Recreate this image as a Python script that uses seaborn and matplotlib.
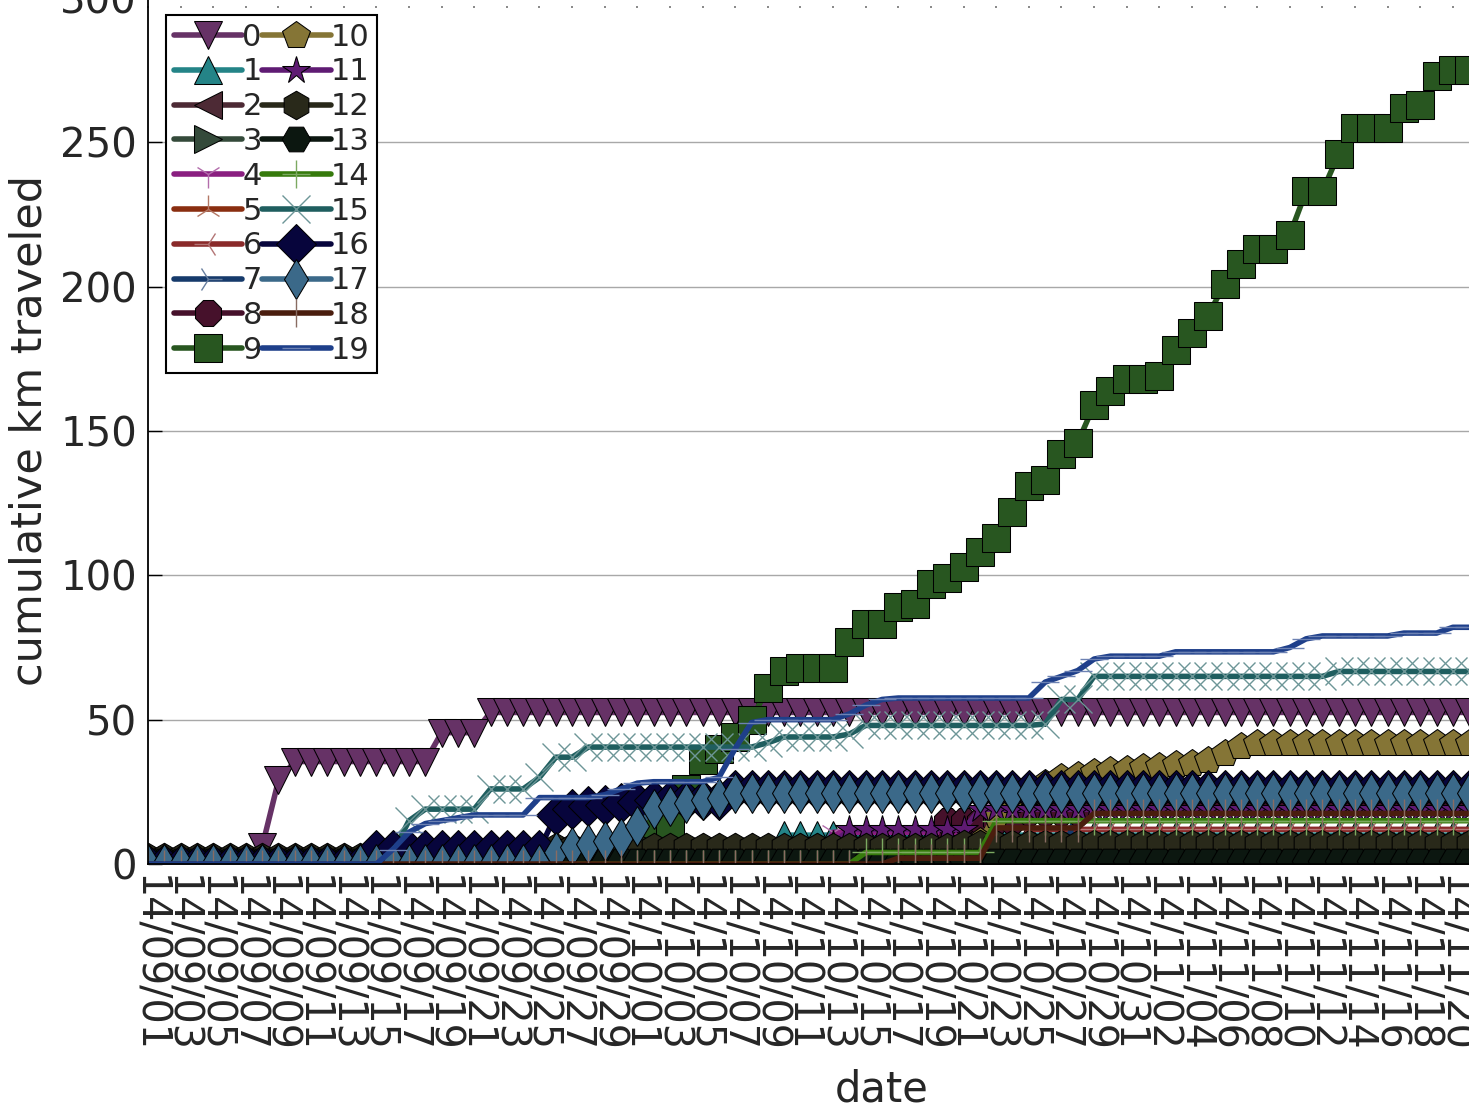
import numpy as np
import pandas as pd
import matplotlib
matplotlib.use("Agg")
import matplotlib.pyplot as plt
import matplotlib.colors as mcolors
from matplotlib.markers import MarkerStyle
import seaborn as sns

# ---- data: cumulative km per participant, one value per day from 2014-09-01 ----
start_date = "2014-09-01"
n_days = 82

series_names = [str(k) for k in range(20)]
series_markers = ['v', '^', '<', '>', '1', '2', '3', '4', '8', 's',
                  'p', '*', 'h', 'H', '+', 'x', 'D', 'd', '|', '_']
series_colors = ['#663266', '#248487', '#4d2a35', '#344a3a', '#8a1f80',
                 '#8a2e10', '#8a2a2a', '#163a6b', '#46112b', '#285620',
                 '#857536', '#5f1b73', '#29291a', '#0c1710', '#367a0c',
                 '#1f5e5f', '#07053c', '#3b6989', '#4a1d0e', '#1e3f8a']

km_0 = [0] * 7 + [6, 29] + [35.5] * 9 + [45.5] * 3 + [52.5] * 61
km_1 = [0] * 38 + [4] + [10] * 43
km_2 = [0] * 60 + [2] * 22
km_3 = [0] * 46 + [3] * 36
km_4 = [0] * 42 + [11] * 10 + [19] * 30
km_5 = [0] * 52 + [19] * 30
km_6 = [0] * 54 + [12] * 28
km_7 = [0] * 57 + [20] * 25
km_8 = [0] * 49 + [15] * 5 + [18] * 4 + [23] * 24
km_9 = ([0] * 30 + [5, 14, 14, 26, 36, 40, 44, 50] +
        [61, 67, 68, 68, 68, 77, 83, 83, 89, 90, 97, 99, 103, 108, 113,
         122, 131, 133, 142, 146, 159, 164, 168, 168, 169, 178, 184, 190,
         201, 208, 213, 213, 218, 233, 233, 246, 255, 255, 255, 262, 263,
         273, 275] + [275])
km_10 = ([0] * 51 + [8, 17, 22, 25, 28, 30, 31, 32, 32.5, 33, 33.5, 34,
                     34.5, 35, 36, 38.5, 41] + [42] * 14)
km_11 = [0] * 42 + [7] + [12] * 8 + [19] * 31
km_12 = [2.5] * 25 + [6] * 25 + [7] * 32
km_13 = [1] * 82
km_14 = [0] * 44 + [4] * 8 + [15] * 30
km_15 = ([0] * 15 + [4, 15] + [19] * 4 + [26] * 3 + [30] + [37] * 2 +
         [40.5] * 11 + [42] + [44] * 4 + [45] + [48] * 11 + [48.5] +
         [57] * 2 + [65] * 15 + [66.7] * 9)
km_16 = [0] * 14 + [5] * 11 + [17, 19, 20, 20.5, 21, 21.5] + [22] * 5 + [25.5] * 46
km_17 = [0] * 25 + [4, 6, 7, 8, 9, 13, 19, 20, 21, 22, 23] + [24.5] * 46
km_18 = [0] * 46 + [2] * 6 + [12.5] * 6 + [17.5] * 24
km_19 = ([0] * 15 + [5, 11, 14, 15, 16] + [17] * 4 + [23] * 4 +
         [24, 26, 28] + [28.5] * 4 + [30, 40, 49] + [50] * 5 +
         [52, 55, 57] + [57.5] * 9 + [63, 65, 67, 71] + [72] * 4 +
         [73.5] * 7 + [75, 78] + [79] * 5 + [80] * 3 + [82] * 2)

series_values = [km_0, km_1, km_2, km_3, km_4, km_5, km_6, km_7, km_8, km_9,
                 km_10, km_11, km_12, km_13, km_14, km_15, km_16, km_17,
                 km_18, km_19]

# date axis: one tick every two days, labelled yy/mm/dd
axis_dates = pd.date_range(start_date, periods=91, freq="D")
tick_positions = list(range(0, 91, 2))
tick_labels = [d.strftime("%y/%m/%d") for d in axis_dates[::2]]

# ---- figure ----
sns.set_theme(style="white")
plt.rcParams["font.family"] = ["DejaVu Sans"]
plt.rcParams["lines.solid_joinstyle"] = "round"

W, H = 1469, 1108
fig = plt.figure(figsize=(W / 100, H / 100), dpi=100)
fig.patch.set_facecolor("white")
ax_w, ax_h = 1468, 866
ax = fig.add_axes([148 / W, (H - 864) / H, ax_w / W, ax_h / H])
ax.set_facecolor("white")
# top tick marks sit a little inside the frame; the top spine itself is hidden
ax.spines["top"].set_position(("outward", -6))
ax.spines["top"].set_visible(False)
ax.spines["right"].set_visible(False)

days = np.arange(n_days)
LINE_W = 4.0


def pale(color, amount=0.35):
    rgb = np.array(mcolors.to_rgb(color))
    return tuple(rgb + (1 - rgb) * amount)


for name, vals, mk, col in zip(series_names, series_values,
                               series_markers, series_colors):
    filled = MarkerStyle(mk).is_filled()
    sns.lineplot(x=days, y=vals, ax=ax, color=col, marker=mk,
                 markersize=20.5,
                 markeredgecolor="black" if filled else pale(col),
                 markeredgewidth=0.75 if filled else 1.0,
                 linewidth=LINE_W, label=name, errorbar=None, legend=False)
    ax.lines[-1].set_linewidth(LINE_W)

ax.set_xlim(0, 90)
ax.set_ylim(0, 300)
ax.set_yticks(range(0, 301, 50))
ax.set_xticks(tick_positions, tick_labels)

ax.set_axisbelow(True)
ax.grid(axis="y", color="#a8a8a8", linewidth=1.0)
ax.grid(axis="x", visible=False)

ax.tick_params(axis="y", direction="in", length=10, width=1.0,
               color="black", pad=8, left=True, right=False, labelsize=29)
ax.tick_params(axis="x", direction="in", bottom=False, top=True,
               length=1.5, width=1.4, color="#888888", pad=8,
               labelbottom=True, labeltop=False, labelsize=28.5,
               labelrotation=270)

for side in ("left", "bottom"):
    ax.spines[side].set_color("black")
    ax.spines[side].set_linewidth(1.3)

ax.set_ylabel("cumulative km traveled", fontsize=31)
ax.set_xlabel("date", fontsize=30)
ax.yaxis.set_label_coords(-97 / ax_w, 0.5 + 1 / ax_h)
ax.xaxis.set_label_coords(0.5, -(1068 - 864) / ax_h)

leg = ax.legend(loc="upper left", bbox_to_anchor=(18 / ax_w, 1 - 17 / ax_h),
                borderaxespad=0, ncol=2, fontsize=22, numpoints=1,
                handlelength=2.25, handletextpad=0.0, columnspacing=0.0,
                labelspacing=0.19, borderpad=0.25, frameon=True,
                fancybox=False, shadow=False, framealpha=1)
leg.get_frame().set_edgecolor("black")
leg.get_frame().set_linewidth(1.5)

fig.savefig("out.png", dpi=100)
